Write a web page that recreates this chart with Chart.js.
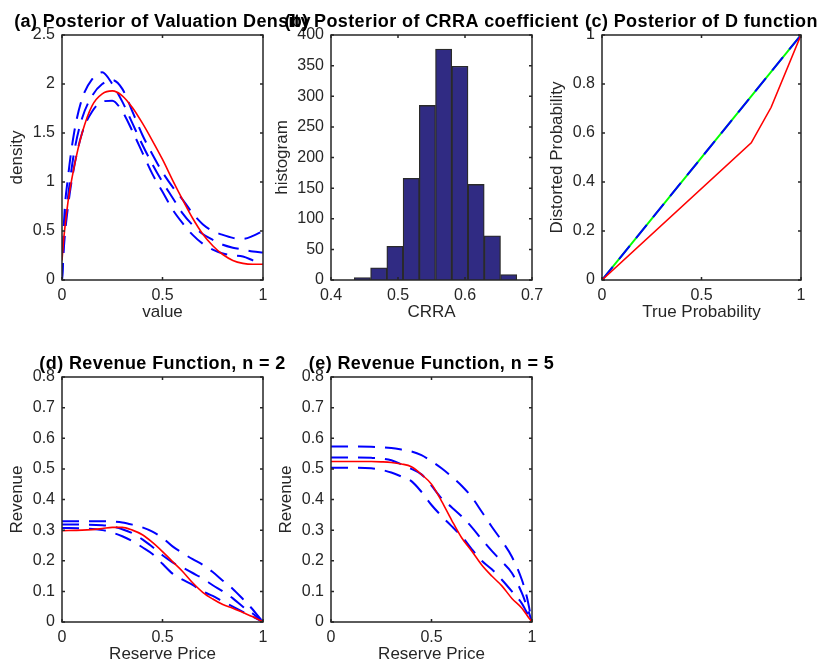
<!DOCTYPE html>
<html>
<head>
<meta charset="utf-8">
<script src="https://cdn.jsdelivr.net/npm/chart.js@4.4.1/dist/chart.umd.min.js"></script>
<style>
  html, body { margin: 0; padding: 0; background: #fff; overflow: hidden; }
  #page { position: relative; width: 820px; height: 661px; overflow: hidden; }
  #page canvas { position: absolute; left: 0; top: 0; }
</style>
</head>
<body>
<div id="page"></div>
<script>
// (a) valuation density
const densX = [0, 0.01, 0.03, 0.06, 0.1, 0.15, 0.2, 0.25, 0.3, 0.35, 0.4, 0.45, 0.5, 0.55, 0.6, 0.65, 0.7, 0.75, 0.8, 0.85, 0.9, 0.95, 1];
const densTrue = [0.2, 0.45, 0.8, 1.15, 1.5, 1.78, 1.9, 1.93, 1.88, 1.76, 1.6, 1.42, 1.23, 1.02, 0.82, 0.63, 0.47, 0.35, 0.26, 0.2, 0.17, 0.16, 0.16];
const densBand1 = [0, 0.6, 1.05, 1.5, 1.85, 2.05, 2.12, 2.0, 1.82, 1.6, 1.38, 1.18, 1.0, 0.84, 0.68, 0.56, 0.47, 0.41, 0.36, 0.33, 0.31, 0.29, 0.28];
const densBand2 = [0, 0.45, 0.85, 1.3, 1.65, 1.88, 2.0, 2.04, 1.95, 1.72, 1.48, 1.28, 1.1, 0.95, 0.82, 0.68, 0.57, 0.5, 0.46, 0.43, 0.42, 0.45, 0.5];
const densBand3 = [0, 0.35, 0.75, 1.15, 1.5, 1.72, 1.82, 1.83, 1.72, 1.52, 1.3, 1.08, 0.9, 0.72, 0.58, 0.46, 0.37, 0.31, 0.27, 0.25, 0.24, 0.2, 0.16];
const densXTicks = [0, 0.5, 1];
const densYTicks = [0, 0.5, 1, 1.5, 2, 2.5];

// (b) CRRA histogram
const crraBins = [0.4469, 0.4712, 0.4954, 0.5197, 0.5439, 0.5681, 0.5924, 0.6166, 0.6409, 0.6651];
const crraCounts = [4, 20, 55, 166, 285, 377, 349, 156, 72, 9];
const crraXTicks = [0.4, 0.5, 0.6, 0.7];
const crraYTicks = [0, 50, 100, 150, 200, 250, 300, 350, 400];

// (c) D function
const probX = [0, 1];
const probDiag = [0, 1];
const distortX = [0, 0.75, 0.85, 1];
const distortTrue = [0, 0.56, 0.705, 1];
const probXTicks = [0, 0.5, 1];
const probYTicks = [0, 0.2, 0.4, 0.6, 0.8, 1];

// (d), (e) revenue
const priceX = [0, 0.1, 0.2, 0.25, 0.3, 0.35, 0.4, 0.45, 0.5, 0.55, 0.6, 0.65, 0.7, 0.75, 0.8, 0.85, 0.9, 0.95, 0.975, 1];
const rev2True = [0.298, 0.3, 0.305, 0.309, 0.309, 0.3, 0.285, 0.26, 0.23, 0.197, 0.165, 0.128, 0.097, 0.075, 0.057, 0.045, 0.031, 0.017, 0.009, 0];
const rev2Hi = [0.329, 0.329, 0.329, 0.328, 0.325, 0.318, 0.309, 0.295, 0.275, 0.247, 0.225, 0.205, 0.187, 0.163, 0.135, 0.108, 0.075, 0.04, 0.02, 0];
const rev2Mid = [0.318, 0.318, 0.316, 0.312, 0.303, 0.29, 0.27, 0.245, 0.218, 0.195, 0.178, 0.16, 0.142, 0.12, 0.1, 0.077, 0.05, 0.027, 0.014, 0];
const rev2Lo = [0.307, 0.306, 0.3, 0.292, 0.28, 0.264, 0.244, 0.222, 0.19, 0.158, 0.138, 0.121, 0.1, 0.085, 0.067, 0.05, 0.033, 0.017, 0.009, 0];
const rev5True = [0.524, 0.524, 0.524, 0.523, 0.521, 0.516, 0.507, 0.482, 0.45, 0.395, 0.333, 0.275, 0.232, 0.186, 0.15, 0.118, 0.077, 0.045, 0.022, 0];
const rev5Hi = [0.573, 0.573, 0.572, 0.571, 0.568, 0.563, 0.557, 0.545, 0.525, 0.502, 0.475, 0.445, 0.408, 0.36, 0.311, 0.265, 0.213, 0.137, 0.08, 0];
const rev5Mid = [0.537, 0.537, 0.536, 0.534, 0.528, 0.515, 0.5, 0.482, 0.445, 0.404, 0.375, 0.345, 0.31, 0.27, 0.232, 0.197, 0.16, 0.094, 0.05, 0];
const rev5Lo = [0.504, 0.504, 0.502, 0.497, 0.488, 0.475, 0.46, 0.425, 0.382, 0.346, 0.313, 0.28, 0.238, 0.2, 0.172, 0.138, 0.1, 0.06, 0.03, 0];
const priceTicks = [0, 0.5, 1];
const revTicks = [0, 0.1, 0.2, 0.3, 0.4, 0.5, 0.6, 0.7, 0.8];

const INK = '#262626';
const FONT = '"Liberation Sans", Arial, Helvetica, sans-serif';
const W = 820, H = 700, XH = 43;
const DASH = [17, 10];

const framePlugin = {
  id: 'panelFrame',
  afterDraw(chart, args, opts) {
    const { ctx, chartArea: a, scales: { x, y } } = chart;
    ctx.save();
    ctx.strokeStyle = INK;
    ctx.lineWidth = 1.5;
    ctx.strokeRect(a.left, a.top, a.right - a.left, a.bottom - a.top);
    ctx.beginPath();
    x.ticks.forEach(t => {
      const px = x.getPixelForValue(t.value);
      ctx.moveTo(px, a.bottom); ctx.lineTo(px, a.bottom - 3);
      ctx.moveTo(px, a.top); ctx.lineTo(px, a.top + 3);
    });
    y.ticks.forEach(t => {
      const py = y.getPixelForValue(t.value);
      ctx.moveTo(a.left, py); ctx.lineTo(a.left + 3, py);
      ctx.moveTo(a.right, py); ctx.lineTo(a.right - 3, py);
    });
    ctx.stroke();
    ctx.font = `bold 18px ${FONT}`;
    ctx.letterSpacing = '0.4px';
    ctx.fillStyle = '#000';
    ctx.textAlign = 'center';
    ctx.textBaseline = 'alphabetic';
    ctx.fillText(opts.title, (a.left + a.right) / 2, a.top - 8);
    ctx.restore();
  }
};

function axis(min, max, ticks, label, isX, size) {
  return {
    type: 'linear', min, max, offset: false,
    grid: { display: false, drawTicks: false },
    border: { display: false },
    afterBuildTicks: s => { s.ticks = ticks.map(v => ({ value: v })); },
    afterFit: s => { if (isX) s.height = size; else s.width = size; },
    ticks: {
      color: INK, padding: isX ? 6 : 7, autoSkip: false, maxRotation: 0,
      font: { family: FONT, size: 16 },
      callback: v => String(v)
    },
    title: { display: true, text: label, color: INK, padding: 0, font: { family: FONT, size: 17 } }
  };
}

function curve(xs, ys, color, dash, width, smooth) {
  return {
    data: xs.map((x, i) => ({ x, y: ys[i] })),
    borderColor: color,
    borderWidth: width,
    borderDash: dash,
    pointRadius: 0,
    fill: false,
    tension: 0,
    cubicInterpolationMode: smooth ? 'monotone' : 'default'
  };
}

function makePanel(p) {
  const canvas = document.createElement('canvas');
  canvas.width = W;
  canvas.height = H;
  document.getElementById('page').appendChild(canvas);
  return new Chart(canvas.getContext('2d'), {
    type: p.type || 'line',
    data: { datasets: p.datasets },
    options: {
      responsive: false,
      animation: false,
      events: [],
      layout: { padding: { left: p.box[0] - p.yw, top: p.box[1], right: W - p.box[2], bottom: H - p.box[3] - XH } },
      plugins: { legend: { display: false }, tooltip: { enabled: false }, panelFrame: { title: p.title } },
      scales: {
        x: axis(p.x[0], p.x[1], p.xTicks, p.xLabel, true, XH),
        y: axis(p.y[0], p.y[1], p.yTicks, p.yLabel, false, p.yw)
      }
    },
    plugins: [framePlugin]
  });
}

makePanel({
  title: '(a) Posterior of Valuation Density', box: [62, 35, 263, 280], yw: 55,
  x: [0, 1], y: [0, 2.5], xTicks: densXTicks, yTicks: densYTicks, xLabel: 'value', yLabel: 'density',
  datasets: [
    curve(densX, densTrue, '#ff0000', [], 1.6, true),
    curve(densX, densBand1, '#0000ff', DASH, 2, true),
    curve(densX, densBand2, '#0000ff', DASH, 2, true),
    curve(densX, densBand3, '#0000ff', DASH, 2, true)
  ]
});

makePanel({
  type: 'bar',
  title: '(b) Posterior of CRRA coefficient', box: [331, 35, 532, 280], yw: 59,
  x: [0.4, 0.7], y: [0, 400], xTicks: crraXTicks, yTicks: crraYTicks, xLabel: 'CRRA', yLabel: 'histogram',
  datasets: [{
    data: crraBins.map((x, i) => ({ x, y: crraCounts[i] })),
    backgroundColor: '#302b83',
    borderColor: '#2a2a2a',
    borderWidth: 1.3,
    barPercentage: 1,
    categoryPercentage: 1
  }]
});

makePanel({
  title: '(c) Posterior of D function', box: [602, 35, 801, 280], yw: 55,
  x: [0, 1], y: [0, 1], xTicks: probXTicks, yTicks: probYTicks, xLabel: 'True Probability', yLabel: 'Distorted Probability',
  datasets: [
    curve(distortX, distortTrue, '#ff0000', [], 1.6, false),
    curve(probX, probDiag, '#0000ff', DASH, 2, false),
    curve(probX, probDiag, '#00ff00', [], 2, false)
  ]
});

makePanel({
  title: '(d) Revenue Function, n = 2', box: [62, 377, 263, 622], yw: 55,
  x: [0, 1], y: [0, 0.8], xTicks: priceTicks, yTicks: revTicks, xLabel: 'Reserve Price', yLabel: 'Revenue',
  datasets: [
    curve(priceX, rev2True, '#ff0000', [], 1.6, true),
    curve(priceX, rev2Hi, '#0000ff', DASH, 2, true),
    curve(priceX, rev2Mid, '#0000ff', DASH, 2, true),
    curve(priceX, rev2Lo, '#0000ff', DASH, 2, true)
  ]
});

makePanel({
  title: '(e) Revenue Function, n = 5', box: [331, 377, 532, 622], yw: 55,
  x: [0, 1], y: [0, 0.8], xTicks: priceTicks, yTicks: revTicks, xLabel: 'Reserve Price', yLabel: 'Revenue',
  datasets: [
    curve(priceX, rev5True, '#ff0000', [], 1.6, true),
    curve(priceX, rev5Hi, '#0000ff', DASH, 2, true),
    curve(priceX, rev5Mid, '#0000ff', DASH, 2, true),
    curve(priceX, rev5Lo, '#0000ff', DASH, 2, true)
  ]
});
</script>
</body>
</html>
